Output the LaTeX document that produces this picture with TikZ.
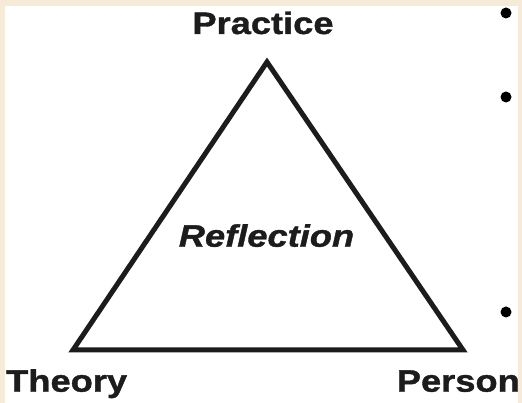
\documentclass[tikz,border=0pt]{standalone}
\usepackage{fontspec}
\usepackage{tikz}
\usetikzlibrary{calc}
\newfontfamily\diagfont[FakeStretch=1.17,FakeBold=1.2]{Liberation Sans}
\definecolor{parchment}{RGB}{245,235,216}
\definecolor{ink}{RGB}{28,28,28}

\begin{document}
\begin{tikzpicture}[x=1pt,y=1pt,
  corner label/.style={inner sep=0pt,text=ink,font=\diagfont\fontsize{31}{34}\selectfont\bfseries},
  bullet dot/.style={circle,fill=black,inner sep=0pt,minimum size=11pt}]
  \fill[parchment] (0,0) rectangle (522,403);
  \fill[white] (5,0) rectangle (518,397);
  \useasboundingbox (0,0) rectangle (522,403);

  \coordinate (top) at (267,341);
  \coordinate (left) at (73,53);
  \coordinate (right) at (463,53);
  \draw[ink,line width=5pt,line join=miter] (top) -- (left) -- (right) -- cycle;

  \node[corner label,anchor=base] (practice) at (263,369) {Practice};
  \node[corner label,anchor=base west] (theory) at (6,11.3) {Theory};
  \node[corner label,anchor=base east] (person) at (520,11.3) {Person};
  \node[corner label,anchor=base,font=\diagfont\fontsize{31}{34}\selectfont\bfseries\itshape] (reflection) at (266.5,156.3) {Reflection};

  \node[bullet dot] (b1) at (506,390) {};
  \node[bullet dot] (b2) at (506,306) {};
  \node[bullet dot] (b3) at (506,91) {};

\end{tikzpicture}
\end{document}
